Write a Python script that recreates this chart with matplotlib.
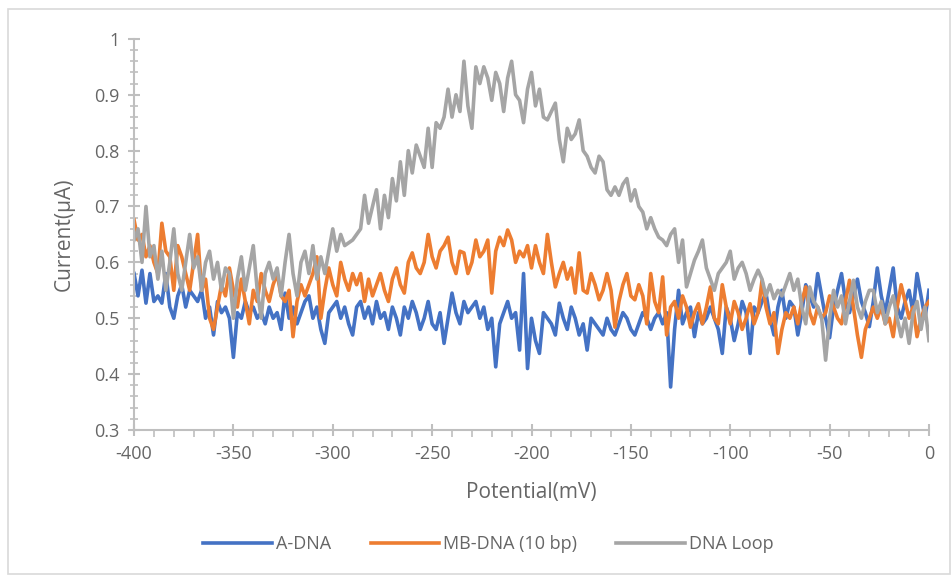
import numpy as np
import matplotlib
matplotlib.use("Agg")
import matplotlib.pyplot as plt
from matplotlib.ticker import MultipleLocator, FuncFormatter
from matplotlib.patches import Rectangle

plt.rcParams['font.family'] = ['Open Sans', 'DejaVu Sans']
plt.rcParams['axes.unicode_minus'] = False

# potential sweep, 2 mV per step
potential = np.arange(-400, 1, 2)

a_dna = [
    0.58, 0.54, 0.586, 0.527, 0.58, 0.53, 0.54, 0.527, 0.58, 0.52,
    0.50, 0.54, 0.56, 0.52, 0.55, 0.54, 0.53, 0.55, 0.50, 0.52,
    0.47, 0.53, 0.51, 0.52, 0.50, 0.43, 0.51, 0.50, 0.53, 0.51,
    0.52, 0.50, 0.51, 0.49, 0.52, 0.50, 0.51, 0.48, 0.545, 0.50,
    0.52, 0.49, 0.51, 0.53, 0.54, 0.50, 0.52, 0.48, 0.455, 0.51,
    0.52, 0.53, 0.50, 0.52, 0.49, 0.47, 0.52, 0.53, 0.50, 0.52,
    0.49, 0.53, 0.50, 0.51, 0.48, 0.52, 0.50, 0.47, 0.52, 0.50,
    0.53, 0.51, 0.48, 0.50, 0.53, 0.49, 0.48, 0.51, 0.455, 0.50,
    0.545, 0.51, 0.49, 0.53, 0.51, 0.52, 0.53, 0.50, 0.52, 0.48,
    0.50, 0.413, 0.49, 0.51, 0.53, 0.50, 0.51, 0.443, 0.58, 0.41,
    0.50, 0.46, 0.437, 0.51, 0.50, 0.49, 0.47, 0.527, 0.50, 0.48,
    0.52, 0.50, 0.47, 0.49, 0.443, 0.50, 0.49, 0.48, 0.47, 0.50,
    0.48, 0.47, 0.49, 0.51, 0.50, 0.48, 0.47, 0.49, 0.51, 0.50,
    0.48, 0.50, 0.51, 0.49, 0.51, 0.377, 0.48, 0.55, 0.49, 0.51,
    0.52, 0.467, 0.51, 0.49, 0.50, 0.52, 0.50, 0.48, 0.437, 0.52,
    0.50, 0.46, 0.49, 0.53, 0.51, 0.437, 0.52, 0.51, 0.53, 0.545,
    0.50, 0.47, 0.52, 0.55, 0.50, 0.53, 0.52, 0.47, 0.51, 0.56,
    0.54, 0.52, 0.58, 0.54, 0.50, 0.465, 0.52, 0.55, 0.58, 0.53,
    0.51, 0.54, 0.57, 0.53, 0.51, 0.485, 0.53, 0.59, 0.54, 0.51,
    0.55, 0.59, 0.52, 0.50, 0.53, 0.55, 0.51, 0.58, 0.54, 0.50,
    0.55,
]

mb_dna = [
    0.676, 0.64, 0.65, 0.61, 0.63, 0.60, 0.58, 0.67, 0.62, 0.61,
    0.55, 0.63, 0.61, 0.58, 0.55, 0.60, 0.65, 0.55, 0.57, 0.50,
    0.48, 0.52, 0.56, 0.54, 0.59, 0.55, 0.52, 0.57, 0.53, 0.49,
    0.55, 0.53, 0.58, 0.55, 0.53, 0.56, 0.58, 0.54, 0.53, 0.55,
    0.467, 0.53, 0.56, 0.54, 0.56, 0.58, 0.61, 0.50, 0.55, 0.59,
    0.56, 0.54, 0.60, 0.57, 0.55, 0.58, 0.56, 0.58, 0.53, 0.57,
    0.54, 0.56, 0.58, 0.55, 0.53, 0.57, 0.59, 0.56, 0.545, 0.60,
    0.617, 0.59, 0.58, 0.60, 0.65, 0.61, 0.59, 0.62, 0.63, 0.645,
    0.60, 0.58, 0.62, 0.617, 0.58, 0.60, 0.64, 0.61, 0.62, 0.64,
    0.545, 0.62, 0.645, 0.63, 0.658, 0.64, 0.60, 0.62, 0.61, 0.63,
    0.59, 0.63, 0.60, 0.58, 0.65, 0.60, 0.556, 0.58, 0.60, 0.57,
    0.59, 0.545, 0.617, 0.55, 0.545, 0.58, 0.56, 0.533, 0.55, 0.58,
    0.55, 0.484, 0.53, 0.56, 0.58, 0.54, 0.533, 0.56, 0.54, 0.49,
    0.58, 0.53, 0.51, 0.574, 0.47, 0.52, 0.53, 0.50, 0.54, 0.52,
    0.484, 0.51, 0.526, 0.49, 0.52, 0.556, 0.50, 0.49, 0.56, 0.52,
    0.49, 0.53, 0.51, 0.48, 0.50, 0.526, 0.49, 0.51, 0.568, 0.52,
    0.49, 0.51, 0.437, 0.48, 0.51, 0.50, 0.52, 0.49, 0.53, 0.556,
    0.51, 0.49, 0.52, 0.50, 0.51, 0.54, 0.52, 0.50, 0.49, 0.53,
    0.568, 0.52, 0.47, 0.43, 0.48, 0.50, 0.52, 0.50, 0.52, 0.49,
    0.50, 0.467, 0.52, 0.56, 0.53, 0.50, 0.52, 0.467, 0.50, 0.52,
    0.53,
]

dna_loop = [
    0.64, 0.66, 0.60, 0.70, 0.61, 0.63, 0.57, 0.62, 0.55, 0.60,
    0.66, 0.58, 0.55, 0.60, 0.65, 0.59, 0.61, 0.55, 0.60, 0.62,
    0.57, 0.60, 0.55, 0.59, 0.58, 0.50, 0.57, 0.61, 0.55, 0.59,
    0.63, 0.55, 0.50, 0.58, 0.60, 0.57, 0.59, 0.54, 0.60, 0.65,
    0.58, 0.54, 0.60, 0.62, 0.58, 0.63, 0.57, 0.61, 0.58, 0.62,
    0.66, 0.62, 0.65, 0.63, 0.635, 0.64, 0.65, 0.66, 0.72, 0.67,
    0.70, 0.73, 0.66, 0.72, 0.68, 0.75, 0.71, 0.78, 0.72, 0.80,
    0.76, 0.81, 0.79, 0.77, 0.84, 0.77, 0.85, 0.84, 0.86, 0.91,
    0.86, 0.90, 0.87, 0.96, 0.88, 0.84, 0.95, 0.92, 0.95, 0.93,
    0.89, 0.94, 0.92, 0.87, 0.93, 0.96, 0.90, 0.89, 0.85, 0.91,
    0.94, 0.88, 0.91, 0.86, 0.855, 0.87, 0.885, 0.82, 0.78, 0.84,
    0.82, 0.83, 0.855, 0.80, 0.79, 0.77, 0.76, 0.79, 0.78, 0.73,
    0.72, 0.735, 0.72, 0.74, 0.75, 0.71, 0.73, 0.70, 0.69, 0.66,
    0.68, 0.66, 0.645, 0.64, 0.63, 0.65, 0.66, 0.60, 0.64, 0.556,
    0.58, 0.604, 0.62, 0.64, 0.59, 0.57, 0.55, 0.58, 0.59, 0.60,
    0.62, 0.57, 0.59, 0.60, 0.58, 0.55, 0.57, 0.586, 0.57, 0.54,
    0.56, 0.535, 0.55, 0.54, 0.56, 0.58, 0.55, 0.57, 0.52, 0.49,
    0.556, 0.53, 0.52, 0.50, 0.425, 0.50, 0.55, 0.52, 0.54, 0.49,
    0.53, 0.568, 0.52, 0.50, 0.53, 0.55, 0.55, 0.51, 0.53, 0.49,
    0.52, 0.54, 0.50, 0.467, 0.50, 0.455, 0.51, 0.53, 0.48, 0.52,
    0.46,
]

series_names = ['A-DNA', 'MB-DNA (10 bp)', 'DNA Loop']
series_colors = ['#4472C4', '#ED7D31', '#A5A5A5']

axis_gray = '#BFBFBF'
text_gray = '#666666'

fig = plt.figure(figsize=(9.52, 5.76), dpi=100)
fig.patches.append(Rectangle((0.008, 0.004), 0.99, 0.98, transform=fig.transFigure,
                             fill=False, edgecolor='#D9D9D9', linewidth=1.2))
ax = fig.add_axes([0.1408, 0.2535, 0.835, 0.679])

for vals, name, col in zip([a_dna, mb_dna, dna_loop], series_names, series_colors):
    ax.plot(potential, vals, color=col, linewidth=2.6, label=name)

ax.set_xlim(-400, 0)
ax.set_ylim(0.3, 1.0)
ax.xaxis.set_major_locator(MultipleLocator(50))
ax.xaxis.set_minor_locator(MultipleLocator(10))
ax.yaxis.set_major_locator(MultipleLocator(0.1))
ax.yaxis.set_minor_locator(MultipleLocator(0.02))
ax.yaxis.set_major_formatter(FuncFormatter(lambda v, p: '%g' % round(v, 2)))

for side in ['top', 'right']:
    ax.spines[side].set_visible(False)
for side in ['left', 'bottom']:
    ax.spines[side].set_color(axis_gray)
    ax.spines[side].set_linewidth(1.5)

ax.tick_params(which='major', direction='inout', length=9, width=1.5, color=axis_gray,
               labelsize=13, labelcolor=text_gray, pad=6)
ax.tick_params(axis='x', which='minor', direction='out', length=5, width=1.2, color=axis_gray)
ax.tick_params(axis='y', which='minor', direction='inout', length=6, width=1.2, color=axis_gray)

ax.set_xlabel('Potential(mV)', fontsize=15, color=text_gray, labelpad=14)
ax.set_ylabel('Current(μA)', fontsize=15, color=text_gray, labelpad=14)

fig.legend(loc='center', bbox_to_anchor=(0.513, 0.055), ncol=3, frameon=False,
           fontsize=13, labelcolor=text_gray, handlelength=3.8, handletextpad=0.2,
           columnspacing=2.2)

fig.savefig('out.png', dpi=100)
